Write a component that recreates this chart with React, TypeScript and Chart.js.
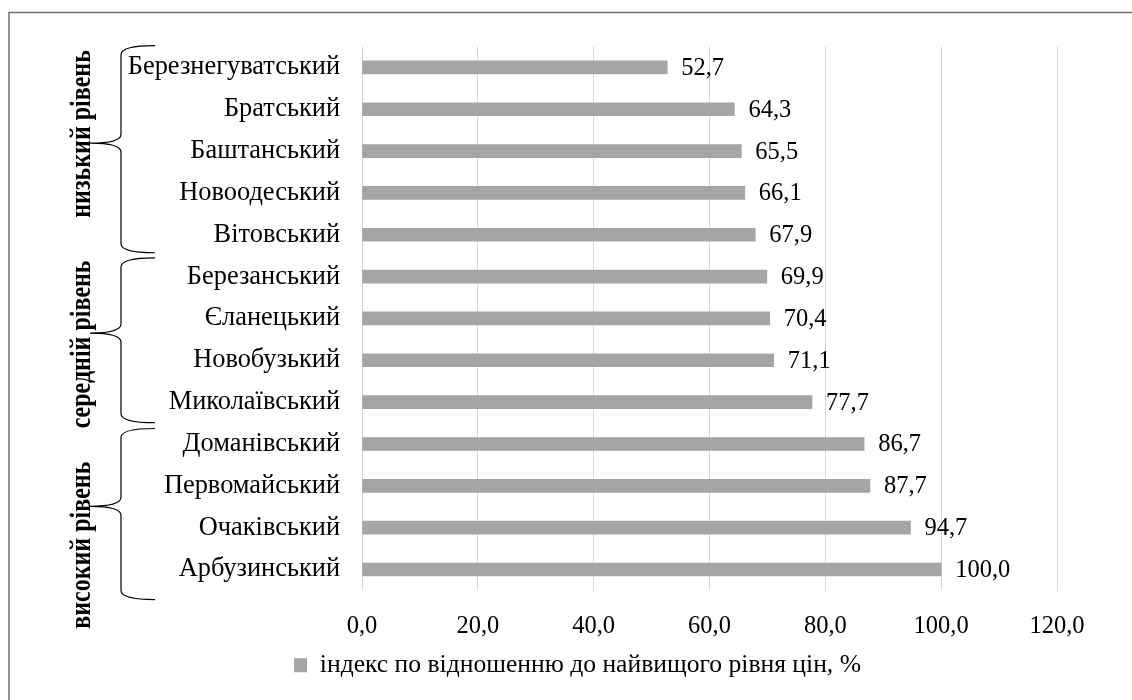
import React, { useEffect, useRef } from 'react';
import { Chart, registerables } from 'chart.js';

Chart.register(...registerables);

const categories = [
  'Березнегуватський',
  'Братський',
  'Баштанський',
  'Новоодеський',
  'Вітовський',
  'Березанський',
  'Єланецький',
  'Новобузький',
  'Миколаївський',
  'Доманівський',
  'Первомайський',
  'Очаківський',
  'Арбузинський',
];

const indexValues = [52.7, 64.3, 65.5, 66.1, 67.9, 69.9, 70.4, 71.1, 77.7, 86.7, 87.7, 94.7, 100.0];

const seriesLabel = 'індекс по відношенню до найвищого рівня цін, %';

const xMin = 0;
const xMax = 120;
const xStep = 20;

const groupLabels = ['низький рівень', 'середній рівень', 'високий рівень'];

const FONT = "'Liberation Serif', 'Times New Roman', serif";
const fmt = (v: number) => v.toFixed(1).replace('.', ',');

// layout (fractional category positions) of the braces and rotated group captions
const braceSpans = [
  { from: -0.52, mid: 1.81, to: 4.43 },
  { from: 4.55, mid: 6.35, to: 8.49 },
  { from: 8.63, mid: 10.49, to: 12.72 },
];
const captionCenters = [1.59, 6.62, 11.42];

const framePlugin = {
  id: 'frame',
  beforeDraw(chart: any) {
    const ctx = chart.ctx;
    ctx.save();
    ctx.fillStyle = '#ffffff';
    ctx.fillRect(0, 0, chart.width, chart.height);
    ctx.strokeStyle = '#707070';
    ctx.lineWidth = 1.5;
    ctx.beginPath();
    ctx.moveTo(9, chart.height + 5);
    ctx.lineTo(9, 12.5);
    ctx.lineTo(chart.width + 5, 12.5);
    ctx.stroke();
    ctx.restore();
  },
};

const valueLabelPlugin = {
  id: 'valueLabels',
  afterDatasetsDraw(chart: any) {
    const ctx = chart.ctx;
    const meta = chart.getDatasetMeta(0);
    const data = chart.data.datasets[0].data as number[];
    ctx.save();
    ctx.font = `24.5px ${FONT}`;
    ctx.fillStyle = '#000';
    ctx.textAlign = 'left';
    ctx.textBaseline = 'middle';
    meta.data.forEach((bar: any, i: number) => {
      ctx.fillText(fmt(data[i]), bar.x + 14, bar.y + 1);
    });
    ctx.restore();
  },
};

function drawBrace(ctx: CanvasRenderingContext2D, top: number, mid: number, bottom: number) {
  const xt = 155;
  const xv = 121;
  const xp = 90;
  const r = 9;
  ctx.beginPath();
  ctx.moveTo(xt, top);
  ctx.quadraticCurveTo(xv, top, xv, top + r);
  ctx.lineTo(xv, mid - r);
  ctx.quadraticCurveTo(xv, mid, xp, mid);
  ctx.quadraticCurveTo(xv, mid, xv, mid + r);
  ctx.lineTo(xv, bottom - r);
  ctx.quadraticCurveTo(xv, bottom, xt, bottom);
  ctx.stroke();
}

const groupPlugin = {
  id: 'groups',
  afterDraw(chart: any) {
    const ctx = chart.ctx;
    const y = chart.scales.y;
    ctx.save();
    ctx.strokeStyle = '#000';
    ctx.lineWidth = 1.2;
    braceSpans.forEach((b) => {
      drawBrace(ctx, y.getPixelForValue(b.from), y.getPixelForValue(b.mid), y.getPixelForValue(b.to));
    });
    ctx.fillStyle = '#000';
    ctx.font = `bold 24px ${FONT}`;
    ctx.textAlign = 'center';
    ctx.textBaseline = 'alphabetic';
    groupLabels.forEach((label, i) => {
      ctx.save();
      ctx.translate(90, y.getPixelForValue(captionCenters[i]));
      ctx.rotate(-Math.PI / 2);
      ctx.scale(1, 1.2);
      ctx.fillText(label, 0, 0);
      ctx.restore();
    });
    ctx.restore();
  },
};

export default function App() {
  const canvasRef = useRef<HTMLCanvasElement | null>(null);

  useEffect(() => {
    document.body.style.margin = '0';
    document.body.style.overflow = 'hidden';
    const canvas = canvasRef.current;
    if (!canvas) return;
    const chart = new Chart(canvas, {
      type: 'bar',
      data: {
        labels: categories,
        datasets: [
          {
            label: seriesLabel,
            data: indexValues,
            backgroundColor: '#a5a5a5',
            borderWidth: 0,
            barThickness: 13,
          },
        ],
      },
      options: {
        indexAxis: 'y',
        animation: false,
        responsive: false,
        maintainAspectRatio: false,
        layout: { padding: { top: 46.5, left: 98, right: 75, bottom: 12 } },
        scales: {
          x: {
            min: xMin,
            max: xMax,
            ticks: {
              stepSize: xStep,
              callback: (v: any) => fmt(Number(v)),
              font: { family: FONT, size: 24.5 },
              color: '#000',
              padding: 21,
            },
            grid: { color: '#d9d9d9', drawTicks: false, lineWidth: 1 },
            border: { display: false },
            afterFit: (s: any) => {
              s.height = 52;
            },
          },
          y: {
            ticks: {
              font: { family: FONT, size: 26.4 },
              color: '#000',
              padding: 22,
              autoSkip: false,
            },
            grid: { display: false, drawTicks: false },
            border: { display: false },
            afterFit: (s: any) => {
              s.width = 264;
            },
          },
        },
        plugins: {
          legend: {
            position: 'bottom',
            labels: {
              font: { family: FONT, size: 25.6 },
              color: '#000',
              boxWidth: 13,
              boxHeight: 14,
              padding: 10,
            },
          },
          tooltip: { enabled: false },
        },
      },
      plugins: [framePlugin, valueLabelPlugin, groupPlugin],
    } as any);
    return () => chart.destroy();
  }, []);

  return (
    <div style={{ width: 1132, height: 700 }}>
      <canvas ref={canvasRef} width={1132} height={700} style={{ display: 'block' }} />
    </div>
  );
}
